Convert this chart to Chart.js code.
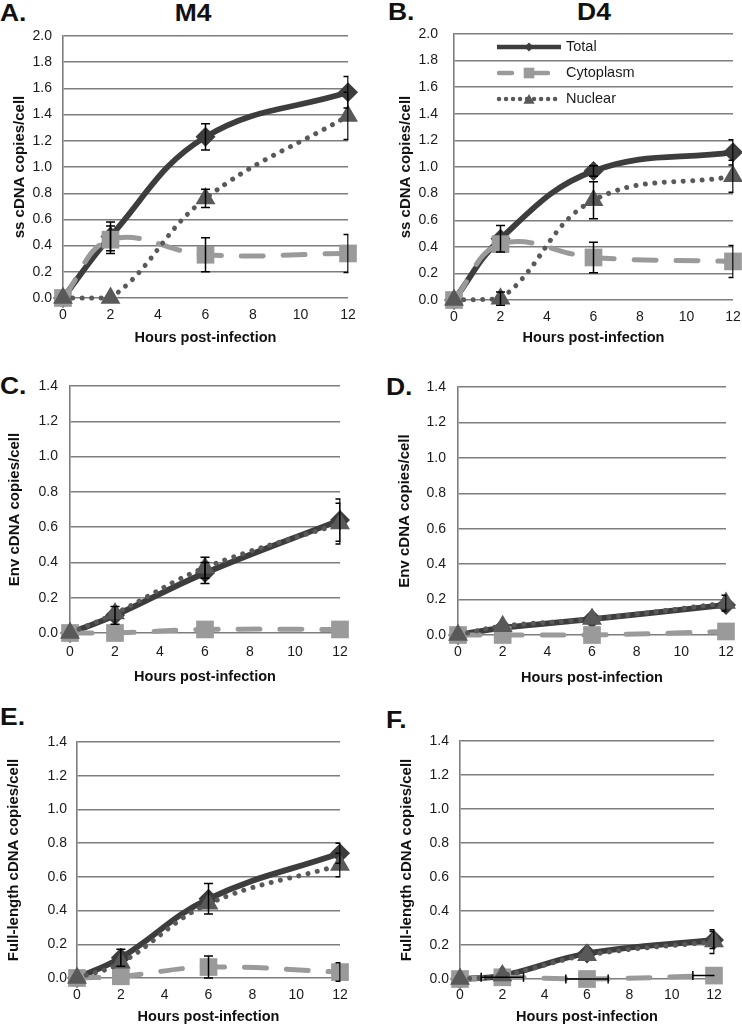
<!DOCTYPE html>
<html><head><meta charset="utf-8">
<script src="https://cdn.jsdelivr.net/npm/chart.js@4/dist/chart.umd.min.js"></script>
<style>
html,body{margin:0;padding:0;background:#fff;width:742px;height:1026px;overflow:hidden;position:relative;font-family:"Liberation Sans",Arial,sans-serif;}
canvas{position:absolute;}
.lbl{position:absolute;font-weight:bold;font-size:23px;line-height:23px;color:#111;white-space:nowrap;transform-origin:0 0;transform:scaleX(1.15);}
.ctr{transform-origin:50% 0;transform:translateX(-50%) scaleX(1.15);}
</style></head><body>
<div class="lbl" style="left:0px;top:1.5px">A.</div>
<div class="lbl ctr" style="left:193px;top:1.5px">M4</div>
<div class="lbl" style="left:388px;top:1px">B.</div>
<div class="lbl ctr" style="left:594px;top:1px">D4</div>
<div class="lbl" style="left:0px;top:374.5px">C.</div>
<div class="lbl" style="left:386px;top:375.5px">D.</div>
<div class="lbl" style="left:0px;top:705.5px">E.</div>
<div class="lbl" style="left:386px;top:708.5px">F.</div>
<canvas id="cA"></canvas><canvas id="cB"></canvas>
<canvas id="cC"></canvas><canvas id="cD"></canvas>
<canvas id="cE"></canvas><canvas id="cF"></canvas>
<script>
// ---------- data ----------
const hours = [0, 2, 6, 12];
const xTicks = [0, 2, 4, 6, 8, 10, 12];
const yTicksSS = [0, 0.2, 0.4, 0.6, 0.8, 1.0, 1.2, 1.4, 1.6, 1.8, 2.0];
const yTicksLow = [0, 0.2, 0.4, 0.6, 0.8, 1.0, 1.2, 1.4];
const seriesNames = ['Total', 'Cytoplasm', 'Nuclear'];

// A. M4 ss cDNA
const aTotal = [0, 0.47, 1.23, 1.57];
const aTotalErr = [0, 0.11, 0.10, 0.12];
const aCyto = [0, 0.445, 0.33, 0.34];
const aCytoErr = [0, 0.105, 0.13, 0.145];
const aNuc = [0, 0.0, 0.76, 1.39];
const aNucErr = [0, 0, 0.07, 0.18];

// B. D4 ss cDNA
const bTotal = [0, 0.46, 0.97, 1.11];
const bTotalErr = [0, 0.10, 0.04, 0.095];
const bCyto = [0, 0.42, 0.32, 0.29];
const bCytoErr = [0, 0, 0.115, 0.12];
const bNuc = [0, 0.01, 0.75, 0.93];
const bNucErr = [0, 0.05, 0.14, 0.12];

// C. M4 Env cDNA
const cTotal = [0, 0.10, 0.34, 0.64];
const cTotalErr = [0, 0.05, 0.06, 0.12];
const cCyto = [0, 0.0, 0.02, 0.02];
const cCytoErr = [0, 0, 0, 0];
const cNuc = [0, 0.11, 0.37, 0.62];
const cNucErr = [0, 0, 0.06, 0.115];

// D. D4 Env cDNA
const dTotal = [0, 0.04, 0.09, 0.17];
const dTotalErr = [0, 0, 0, 0];
const dCyto = [0, 0.0, 0.0, 0.02];
const dCytoErr = [0, 0, 0, 0];
const dNuc = [0, 0.05, 0.09, 0.18];
const dNucErr = [0, 0, 0, 0.045];

// E. M4 Full-length cDNA
const eTotal = [0, 0.12, 0.47, 0.74];
const eTotalErr = [0, 0.05, 0.09, 0.06];
const eCyto = [0, 0.01, 0.065, 0.035];
const eCytoErr = [0, 0, 0.065, 0.055];
const eNuc = [0, 0.09, 0.44, 0.67];
const eNucErr = [0, 0, 0, 0.07];

// F. D4 Full-length cDNA
const fTotal = [0, 0.02, 0.15, 0.23];
const fTotalErr = [0, 0, 0, 0.05];
const fCyto = [0, 0.01, 0.0, 0.02];
const fCytoXErr = [0, 1, 1, 1];
const fNuc = [0, 0.02, 0.14, 0.22];
const fNucErr = [0, 0, 0, 0.07];

// ---------- styles ----------
const STY = {
  Total:     {color:'#3d3d3d', width:5.8, dash:[], cap:'butt', point:'rectRot', r:10, order:2},
  Cytoplasm: {color:'#9a9a9a', width:5, dash:[22,20], cap:'round', point:'rect', r:12.5, order:1},
  Nuclear:   {color:'#595959', width:5, dash:[0.01,9.5], cap:'round', point:'triangle', r:11.5, order:0}
};
const FONT = '"Liberation Sans", Arial, sans-serif';

function ds(name, ys, yErr, xErr) {
  const s = STY[name];
  return {
    label: name,
    data: hours.map((h, i) => ({x: h, y: ys[i]})),
    yErr: yErr || null, xErr: xErr || null,
    borderColor: s.color, borderWidth: s.width, borderDash: s.dash,
    borderCapStyle: s.cap, borderJoinStyle: 'round',
    pointStyle: s.point, pointRadius: s.r, pointHoverRadius: s.r,
    pointBackgroundColor: s.color, pointBorderColor: s.color, pointBorderWidth: 0,
    tension: 0.4, clip: false, fill: false, order: s.order
  };
}

const errorBars = {
  id: 'errorBars',
  afterDatasetsDraw(chart) {
    const {ctx, chartArea: ca} = chart;
    const xs = chart.scales.x, ys = chart.scales.y;
    ctx.save();
    ctx.beginPath();
    ctx.rect(ca.left - 20, ca.top - 40, ca.right - ca.left + 20.5, ca.bottom - ca.top + 80);
    ctx.clip();
    ctx.strokeStyle = '#000';
    ctx.lineWidth = 1.5;
    const cw = 4.5;
    chart.data.datasets.forEach(d => {
      d.data.forEach((p, i) => {
        const e = d.yErr ? d.yErr[i] : 0;
        const px = xs.getPixelForValue(p.x), py = ys.getPixelForValue(p.y);
        if (e) {
          const y1 = ys.getPixelForValue(p.y + e), y2 = ys.getPixelForValue(p.y - e);
          ctx.beginPath();
          ctx.moveTo(px, y1); ctx.lineTo(px, y2);
          ctx.moveTo(px - cw, y1); ctx.lineTo(px + cw, y1);
          ctx.moveTo(px - cw, y2); ctx.lineTo(px + cw, y2);
          ctx.stroke();
        }
        const ex = d.xErr ? d.xErr[i] : 0;
        if (ex) {
          const x1 = xs.getPixelForValue(p.x - ex), x2 = xs.getPixelForValue(p.x + ex);
          ctx.beginPath();
          ctx.moveTo(x1, py); ctx.lineTo(x2, py);
          ctx.moveTo(x1, py - cw); ctx.lineTo(x1, py + cw);
          ctx.moveTo(x2, py - cw); ctx.lineTo(x2, py + cw);
          ctx.stroke();
        }
      });
    });
    ctx.restore();
  }
};

function marker(ctx, style, x, y, r, color) {
  ctx.fillStyle = color;
  ctx.beginPath();
  if (style === 'rectRot') {
    ctx.moveTo(x - r, y); ctx.lineTo(x, y - r); ctx.lineTo(x + r, y); ctx.lineTo(x, y + r);
  } else if (style === 'rect') {
    const s = r * Math.SQRT1_2;
    ctx.rect(x - s, y - s, 2 * s, 2 * s);
  } else {
    ctx.moveTo(x, y - r); ctx.lineTo(x + r * 0.866, y + r / 2); ctx.lineTo(x - r * 0.866, y + r / 2);
  }
  ctx.closePath();
  ctx.fill();
}

const customLegend = {
  id: 'customLegend',
  afterDraw(chart, args, opts) {
    if (!opts || !opts.show) return;
    const ctx = chart.ctx;
    ctx.save();
    const legR = {Total: 4.5, Cytoplasm: 7.5, Nuclear: 6.5};
    const legDash = {Total: [], Cytoplasm: [13, 23], Nuclear: [0.01, 7]};
    seriesNames.forEach((name, k) => {
      const s = STY[name];
      const y = opts.rows[k];
      ctx.strokeStyle = s.color;
      ctx.lineWidth = 4.5;
      ctx.lineCap = s.cap;
      ctx.setLineDash(legDash[name]);
      ctx.beginPath();
      ctx.moveTo(opts.x0 + (name === 'Total' ? 0 : 2), y); ctx.lineTo(opts.x1 - (name === 'Total' ? 0 : 3), y);
      ctx.stroke();
      ctx.setLineDash([]);
      marker(ctx, s.point, opts.xm, y + (name === 'Nuclear' ? 1.5 : 0), legR[name], s.color);
      ctx.fillStyle = '#1a1a1a';
      ctx.font = '14.5px ' + FONT;
      ctx.textBaseline = 'middle';
      ctx.textAlign = 'left';
      ctx.fillText(name, opts.xt, y);
    });
    ctx.restore();
  }
};

const panels = [
  {id:'cA', cx:0, cy:0, cw:371, ch:350, L:63, T:36, R:348, B:298, yTicks:yTicksSS, yMax:2.0,
   yTitle:'ss cDNA copies/cell', yTitleX:20, yGap:11, xTickY:315, xTitleY:338,
   sets:[ds('Total', aTotal, aTotalErr), ds('Cytoplasm', aCyto, aCytoErr), ds('Nuclear', aNuc, aNucErr)]},
  {id:'cB', cx:371, cy:0, cw:380, ch:350, L:454, T:34, R:733, B:300, yTicks:yTicksSS, yMax:2.0,
   yTitle:'ss cDNA copies/cell', yTitleX:406, yGap:16, xTickY:317, xTitleY:338,
   legend:{show:true, x0:126, x1:190, xm:158, xt:195, rows:[47, 73, 99]},
   sets:[ds('Total', bTotal, bTotalErr), ds('Cytoplasm', bCyto, bCytoErr), ds('Nuclear', bNuc, bNucErr)]},
  {id:'cC', cx:0, cy:345, cw:371, ch:345, L:70, T:386, R:340, B:633, yTicks:yTicksLow, yMax:1.4,
   yTitle:'Env cDNA copies/cell', yTitleX:15, yGap:12, xTickY:652, xTitleY:677,
   sets:[ds('Total', cTotal, cTotalErr), ds('Cytoplasm', cCyto, cCytoErr), ds('Nuclear', cNuc, cNucErr)]},
  {id:'cD', cx:371, cy:345, cw:380, ch:345, L:458, T:387, R:726, B:635, yTicks:yTicksLow, yMax:1.4,
   yTitle:'Env cDNA copies/cell', yTitleX:405, yGap:12, xTickY:652, xTitleY:678,
   sets:[ds('Total', dTotal, dTotalErr), ds('Cytoplasm', dCyto, dCytoErr), ds('Nuclear', dNuc, dNucErr)]},
  {id:'cE', cx:0, cy:690, cw:371, ch:336, L:77, T:742, R:340, B:978, yTicks:yTicksLow, yMax:1.4,
   yTitle:'Full-length cDNA copies/cell', yTitleX:14, yGap:10, xTickY:995, xTitleY:1017.6,
   sets:[ds('Total', eTotal, eTotalErr), ds('Cytoplasm', eCyto, eCytoErr), ds('Nuclear', eNuc, eNucErr)]},
  {id:'cF', cx:371, cy:690, cw:380, ch:336, L:460, T:741, R:714, B:979, yTicks:yTicksLow, yMax:1.4,
   yTitle:'Full-length cDNA copies/cell', yTitleX:407, yGap:11, xTickY:995, xTitleY:1017.6,
   sets:[ds('Total', fTotal, fTotalErr), ds('Cytoplasm', fCyto, null, fCytoXErr), ds('Nuclear', fNuc, fNucErr)]}
];

const GRID = '#7d7d7d';
const LH = 14 * 1.2;
const YLH = 15 * 1.2;

panels.forEach(p => {
  const cv = document.getElementById(p.id);
  cv.width = p.cw; cv.height = p.ch;
  cv.style.left = p.cx + 'px'; cv.style.top = p.cy + 'px';
  cv.style.width = p.cw + 'px'; cv.style.height = p.ch + 'px';
  const yW = p.L - p.cx, xH = p.cy + p.ch - p.B;
  new Chart(cv, {
    type: 'line',
    data: {datasets: p.sets},
    plugins: [errorBars, customLegend],
    options: {
      responsive: false, animation: false, devicePixelRatio: 1,
      layout: {padding: {left: 0, top: p.T - p.cy, right: p.cw - (p.R - p.cx), bottom: 0}},
      plugins: {
        legend: {display: false}, tooltip: {enabled: false}, title: {display: false},
        customLegend: p.legend || {show: false}
      },
      scales: {
        x: {
          type: 'linear', min: 0, max: 12,
          afterBuildTicks: a => { a.ticks = xTicks.map(v => ({value: v})); },
          afterFit: a => { a.height = xH; },
          grid: {display: false, drawTicks: false},
          border: {display: false},
          ticks: {padding: p.xTickY - p.B - LH / 2, color: '#1a1a1a', font: {family: FONT, size: 14},
                  callback: v => String(v), maxRotation: 0, autoSkip: false},
          title: {display: true, text: 'Hours post-infection', color: '#111',
                  font: {family: FONT, size: 14.5, weight: 'bold'},
                  padding: {top: 0, bottom: Math.max(0, p.cy + p.ch - LH / 2 - p.xTitleY)}}
        },
        y: {
          type: 'linear', min: 0, max: p.yMax,
          afterBuildTicks: a => { a.ticks = p.yTicks.map(v => ({value: v})); },
          afterFit: a => { a.width = yW; },
          grid: {color: GRID, lineWidth: 1.4, drawTicks: false},
          border: {display: true, color: GRID, width: 1.6},
          ticks: {padding: p.yGap, color: '#1a1a1a', font: {family: FONT, size: 14},
                  callback: v => Number(v).toFixed(1), autoSkip: false},
          title: {display: true, text: p.yTitle, color: '#111',
                  font: {family: FONT, size: 15, weight: 'bold'},
                  padding: {top: p.yTitleX - p.cx - YLH / 2, bottom: 0}}
        }
      }
    }
  });
});
</script>
</body></html>
